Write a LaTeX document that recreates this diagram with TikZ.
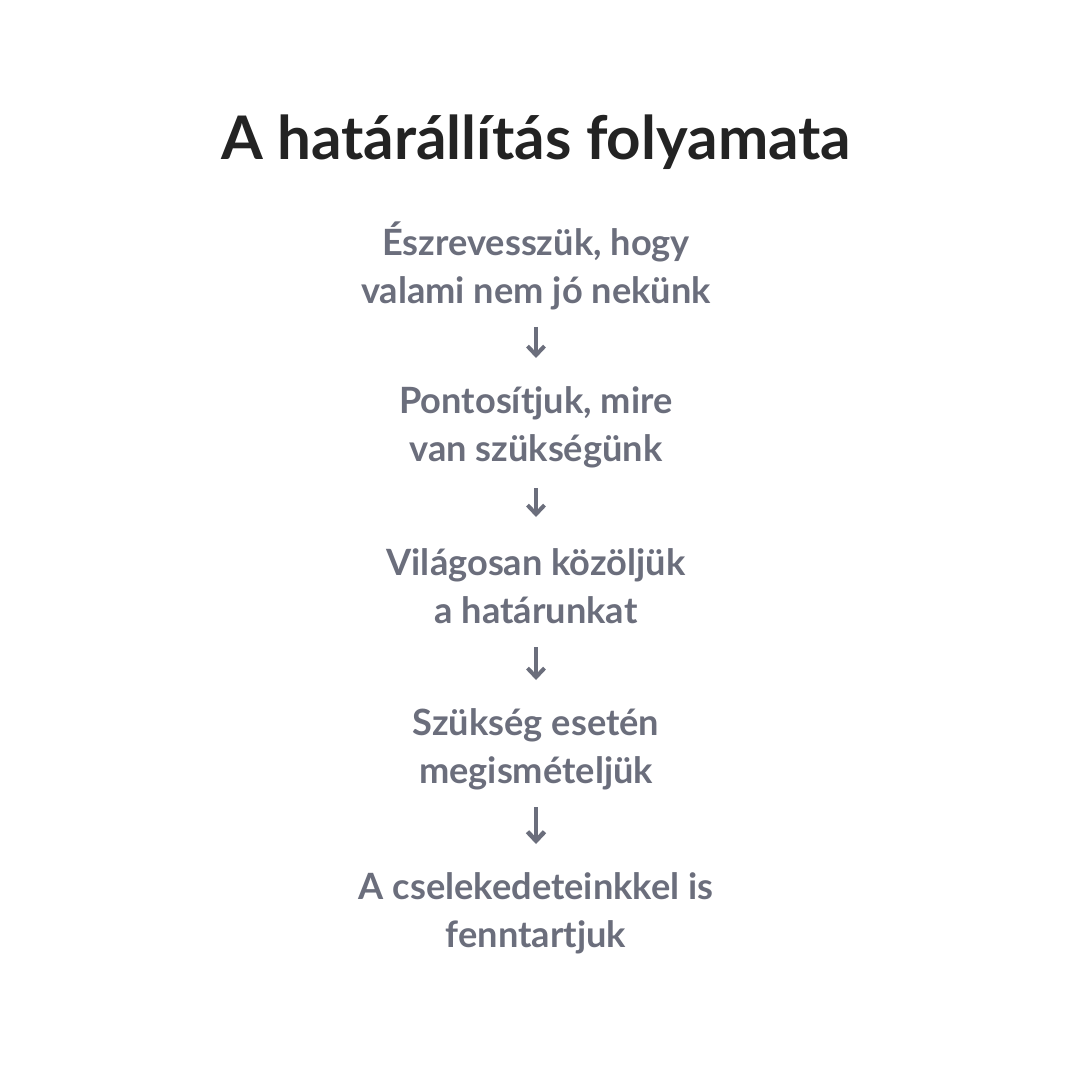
\documentclass[tikz,border=0pt]{standalone}
\usepackage{fontspec}
\setmainfont{Lato}
\usepackage{xcolor}
\usetikzlibrary{arrows.meta}

\definecolor{titlegray}{HTML}{232323}
\definecolor{stepgray}{HTML}{6B6E7C}

\tikzset{
  titletext/.style={font=\fontsize{17.1}{20}\selectfont\bfseries, text=titlegray},
  steptext/.style={font=\fontsize{10.3}{13.66}\selectfont\bfseries, text=stepgray,
    align=center, inner sep=0pt},
  flowarrow/.style={draw=stepgray, line width=0.04cm,
    -{Straight Barb[length=0.09cm,width=0.17cm]},
    shorten <=0.61cm, shorten >=0.69cm}
}

\begin{document}
\begin{tikzpicture}
\useasboundingbox[fill=white] (0,0) rectangle (10.8,-10.8);

% Title
\node[titletext, anchor=base] (title) at (5.36,-1.60) {A határállítás folyamata};

% Steps
\foreach \i/\y/\txt in {
    1/2.66/{Észrevesszük, hogy\\valami nem jó nekünk},
    2/4.27/{Pontosítjuk, mire\\van szükségünk},
    3/5.86/{Világosan közöljük\\a határunkat},
    4/7.49/{Szükség esetén\\megismételjük},
    5/9.13/{A cselekedeteinkkel is\\fenntartjuk}} {
    \node[steptext] (s\i) at (5.36,-\y) {\txt};
}

% Arrows between steps
\foreach \a/\b in {1/2, 2/3, 3/4} {
    \draw[flowarrow] (s\a.center) -- (s\b.center);
}
\draw[flowarrow, line width=0.045cm, shorten <=0.58cm] (s4.center) -- (s5.center);

\end{tikzpicture}
\end{document}
